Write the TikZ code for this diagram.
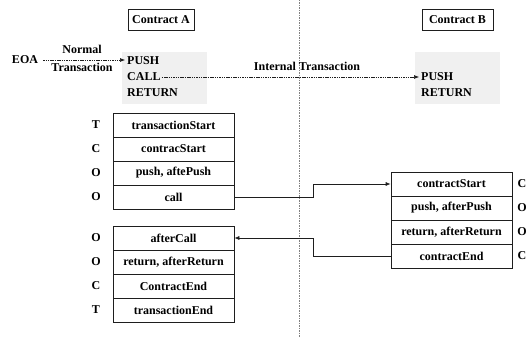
\documentclass[tikz,border=0pt]{standalone}
\usepackage{fontspec}
\setmainfont{Liberation Serif}
\usetikzlibrary{arrows.meta}
\definecolor{boxgray}{RGB}{240,240,240}
\definecolor{lineblk}{RGB}{30,30,30}
\begin{document}
\begin{tikzpicture}[x=1pt,y=-1pt,
  font=\bfseries\fontsize{12}{14}\selectfont,
  cell/.style={draw=lineblk, line width=0.7pt, minimum width=121pt, minimum height=24pt, inner sep=0pt},
  titlebox/.style={draw=lineblk, line width=0.7pt, minimum height=21pt, inner sep=0pt},
  graybox/.style={fill=boxgray, draw=none, minimum width=85pt, minimum height=52pt, inner sep=0pt},
  optxt/.style={anchor=west, inner sep=0pt},
  lbl/.style={inner sep=0pt},
  dasharrow/.style={draw=lineblk, line width=0.6pt, dash pattern=on 1.5pt off 0.8pt, -{Latex[length=5pt,width=4pt]}},
  solidarrow/.style={draw=lineblk, line width=0.7pt, -{Latex[length=5pt,width=4pt]}},
  divider/.style={draw=gray, line width=0.6pt, dash pattern=on 1.5pt off 1pt}
]
\useasboundingbox (0,0) rectangle (531,337);

% divider
\coordinate (vtop) at (299,0);
\coordinate (vbot) at (299,337);
\draw[divider] (vtop) -- (vbot);

% titles
\node[titlebox, minimum width=66pt] (ca) at (161,19.5) {Contract A};
\node[titlebox, minimum width=71pt] (cb) at (457.5,19.5) {Contract B};

% gray boxes
\node[graybox] (ga) at (164.5,78) {};
\node[graybox] (gb) at (457,78) {};
\node[optxt] (pusha) at (127,61) {PUSH};
\node[optxt] (calla) at (127,77) {CALL};
\node[optxt] (returna) at (127,93) {RETURN};
\node[optxt] (pushb) at (421,77) {PUSH};
\node[optxt] (returnb) at (421,93) {RETURN};

% EOA
\node[lbl] (eoa) at (25,60) {EOA};
\node[lbl] (normal) at (82,49) {Normal};
\node[lbl] (trans) at (82,67) {Transaction};
\draw[dasharrow] ([xshift=5pt]eoa.east) -- ([xshift=-2pt]eoa.east -| pusha.west);
\draw[dasharrow] ([xshift=1pt]calla.east) -- ([xshift=-2pt]pushb.west);
\node[lbl] (internal) at (307,66) {Internal Transaction};

% table A top
\node[cell] (a1) at (173.5,125) {transactionStart};
\node[cell] (a2) at (173.5,149) {contracStart};
\node[cell] (a3) at (173.5,173) {push, aftePush};
\node[cell] (a4) at (173.5,197) {call};
\node[lbl] (la1) at (96,125) {T};
\node[lbl] (la2) at (96,149) {C};
\node[lbl] (la3) at (96,173) {O};
\node[lbl] (la4) at (96,197) {O};

% table A bottom
\node[cell] (c1) at (173.5,238) {afterCall};
\node[cell] (c2) at (173.5,262) {return, afterReturn};
\node[cell] (c3) at (173.5,286) {ContractEnd};
\node[cell] (c4) at (173.5,310) {transactionEnd};
\node[lbl] (lc1) at (96,238) {O};
\node[lbl] (lc2) at (96,262) {O};
\node[lbl] (lc3) at (96,286) {C};
\node[lbl] (lc4) at (96,310) {T};

% table B
\node[cell] (b1) at (451.5,184) {contractStart};
\node[cell] (b2) at (451.5,208) {push, afterPush};
\node[cell] (b3) at (451.5,232) {return, afterReturn};
\node[cell] (b4) at (451.5,256) {contractEnd};
\node[lbl] (lb1) at (522,184) {C};
\node[lbl] (lb2) at (522,208) {O};
\node[lbl] (lb3) at (522,232) {O};
\node[lbl] (lb4) at (522,256) {C};

% connectors
\coordinate (step) at (313,0);
\draw[solidarrow] (a4.east) -- (a4.east -| step) |- (b1.west);
\draw[solidarrow] (b4.west) -- (b4.west -| step) |- (c1.east);
\end{tikzpicture}
\end{document}
